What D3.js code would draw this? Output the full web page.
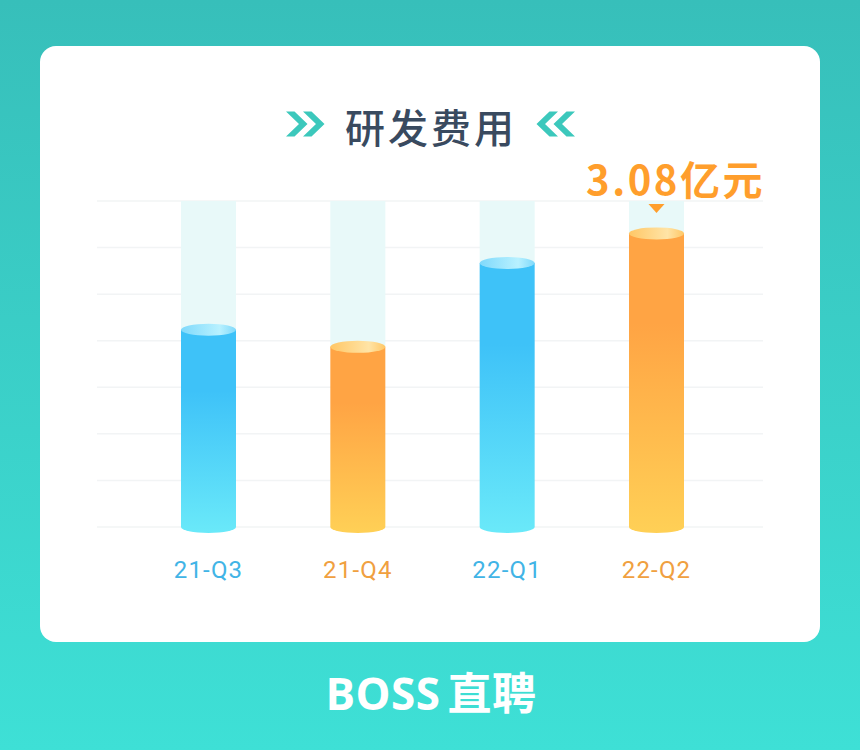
<!DOCTYPE html>
<html><head><meta charset="utf-8">
<script src="https://cdn.jsdelivr.net/npm/d3@7/dist/d3.min.js"></script>
<style>html,body{margin:0;padding:0;}svg{display:block;}</style>
</head><body>
<svg id="c" width="860" height="750"></svg>
<script>
const categories = ["21-Q3", "21-Q4", "22-Q1", "22-Q2"];
const values = [2.07, 1.89, 2.77, 3.08];
const colorKeys = ["blue", "orange", "blue", "orange"];
const title = "研发费用";
const highlightLabel = "3.08亿元";
const brandParts = ["BOSS", "直聘"];
const yMax = 3.42;
const gridCount = 7;

const svg = d3.select("#c");
const defs = svg.append("defs");
const bg = defs.append("linearGradient").attr("id","bg").attr("x1",0).attr("y1",0).attr("x2",0).attr("y2",1);
bg.append("stop").attr("offset","0%").attr("stop-color","#37bfba");
bg.append("stop").attr("offset","100%").attr("stop-color","#3ee0d6");
const pal = {
  blue:{top:"#3ec2f8", bot:"#6ae9f9", capA:"#7fd9fb", capB:"#b8f1ff", label:"#41b4e6"},
  orange:{top:"#ffa444", bot:"#ffd056", capA:"#ffc766", capB:"#ffe4a6", label:"#f0a040"}
};
Object.entries(pal).forEach(([k,p])=>{
  const g = defs.append("linearGradient").attr("id","body-"+k).attr("x1",0).attr("y1",0).attr("x2",0).attr("y2",1);
  g.append("stop").attr("offset","0%").attr("stop-color",p.top);
  g.append("stop").attr("offset","30%").attr("stop-color",p.top);
  g.append("stop").attr("offset","100%").attr("stop-color",p.bot);
  const c = defs.append("linearGradient").attr("id","cap-"+k).attr("x1",0).attr("y1",0).attr("x2",1).attr("y2",0);
  c.append("stop").attr("offset","0%").attr("stop-color",p.capA);
  c.append("stop").attr("offset","70%").attr("stop-color",p.capB);
  c.append("stop").attr("offset","100%").attr("stop-color",p.capA);
});

svg.append("rect").attr("width",860).attr("height",750).attr("fill","url(#bg)");
svg.append("rect").attr("x",40).attr("y",46).attr("width",780).attr("height",596).attr("rx",16).attr("fill","#ffffff");

const y0 = 527, yTop = 201;
const y = d3.scaleLinear().domain([0, yMax]).range([y0, yTop]);
const gridY = d3.scaleLinear().domain([0, gridCount]).range([y0, yTop]);
const x = d3.scalePoint().domain(categories).range([208.5, 656.5]);
const bw = 55, ry = 6;

svg.append("g").selectAll("line").data(d3.range(gridCount+1)).join("line")
  .attr("x1",97).attr("x2",763).attr("y1",d=>gridY(d)).attr("y2",d=>gridY(d))
  .attr("stroke","#f2f4f5").attr("stroke-width",1.5);

const data = categories.map((c,i)=>({c, v:values[i], k:colorKeys[i]}));
const g = svg.append("g");
g.selectAll("rect.bgc").data(data).join("rect").attr("class","bgc")
  .attr("x",d=>x(d.c)-bw/2).attr("width",bw).attr("y",yTop).attr("height",d=>y(d.v)-yTop)
  .attr("fill","#e8f9f9");
g.selectAll("path.body").data(data).join("path").attr("class","body")
  .attr("d",d=>{
    const cx=x(d.c), l=cx-bw/2, r=cx+bw/2, t=y(d.v);
    return `M${l},${t} L${r},${t} L${r},${y0} A${bw/2},${ry} 0 0 1 ${l},${y0} Z`;
  })
  .attr("fill",d=>`url(#body-${d.k})`);
g.selectAll("ellipse.cap").data(data).join("ellipse").attr("class","cap")
  .attr("cx",d=>x(d.c)).attr("cy",d=>y(d.v)).attr("rx",bw/2).attr("ry",ry)
  .attr("fill",d=>`url(#cap-${d.k})`);

svg.append("g").selectAll("text").data(data).join("text")
  .attr("x",d=>x(d.c)).attr("y",578).attr("text-anchor","middle")
  .attr("font-family","Roboto, 'Noto Sans', sans-serif").attr("font-size",24)
  .attr("fill",d=>pal[d.k].label).attr("letter-spacing",1.2).text(d=>d.c);

const last = data[data.length-1];
const lx = x(last.c);
svg.append("text").attr("x",lx+19).attr("y",195).attr("text-anchor","middle")
  .attr("font-family","'Noto Sans CJK SC', sans-serif").attr("font-weight",700)
  .attr("font-size",40).attr("fill","#ff9e2c").attr("letter-spacing",2.5).text(highlightLabel);
svg.append("path").attr("d",`M${lx-8},204 L${lx+8},204 L${lx},213 Z`).attr("fill","#ff9e2c");

svg.append("text").attr("x",431).attr("y",143).attr("text-anchor","middle")
  .attr("font-family","'Noto Sans CJK SC', sans-serif").attr("font-weight",500)
  .attr("font-size",40).attr("fill","#394a5f").attr("letter-spacing",3).text(title);
function chev(x0, dir){
  const w=13, h=12.5, t=8.5;
  let p="";
  for (let i=0;i<2;i++){
    const bx = x0 + dir*i*17;
    p += `M${bx},${124-h} L${bx+dir*t},${124-h} L${bx+dir*(t+w)},124 L${bx+dir*t},${124+h} L${bx},${124+h} L${bx+dir*w},124 Z `;
  }
  return p;
}
svg.append("path").attr("d",chev(286,1)).attr("fill","#3cc8bc");
svg.append("path").attr("d",chev(575,-1)).attr("fill","#3cc8bc");

const bt = svg.append("text").attr("x",431).attr("y",710).attr("text-anchor","middle")
  .attr("font-family","'Open Sans','Noto Sans CJK SC', sans-serif").attr("font-weight",700)
  .attr("font-size",44).attr("fill","#ffffff").attr("letter-spacing",0.5);
bt.append("tspan").text(brandParts[0]);
bt.append("tspan").attr("dx",7).text(brandParts[1]);
</script>
</body></html>
